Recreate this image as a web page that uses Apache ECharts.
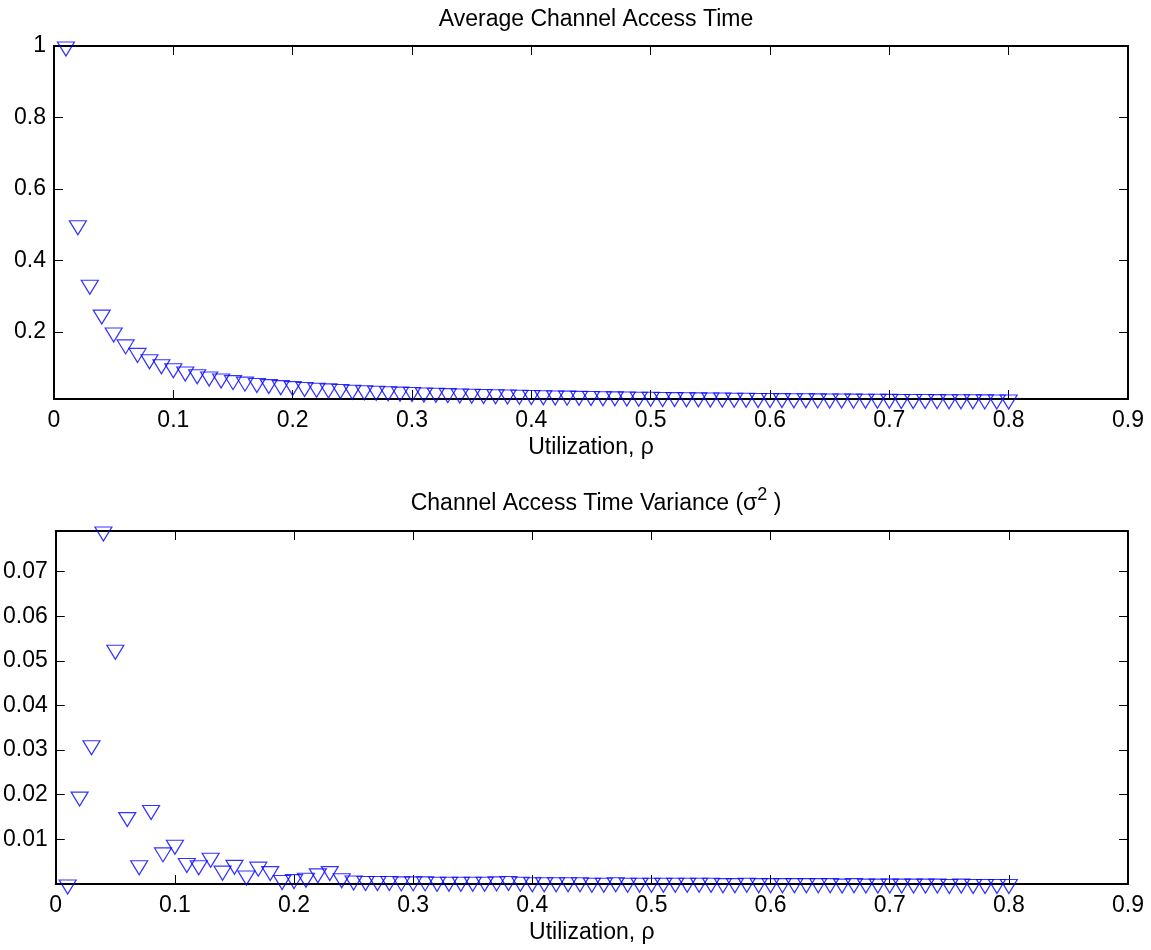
<!DOCTYPE html>
<html>
<head>
<meta charset="utf-8">
<script src="https://cdn.jsdelivr.net/npm/echarts@6/dist/echarts.min.js"></script>
<style>
html,body{margin:0;padding:0;background:#fff;}
#chart{width:1151px;height:950px;}
</style>
</head>
<body>
<div id="chart"></div>
<script>
// Utilization values (x)
const rho = [
  0.01,0.02,0.03,0.04,0.05,0.06,0.07,0.08,0.09,0.10,
  0.11,0.12,0.13,0.14,0.15,0.16,0.17,0.18,0.19,0.20,
  0.21,0.22,0.23,0.24,0.25,0.26,0.27,0.28,0.29,0.30,
  0.31,0.32,0.33,0.34,0.35,0.36,0.37,0.38,0.39,0.40,
  0.41,0.42,0.43,0.44,0.45,0.46,0.47,0.48,0.49,0.50,
  0.51,0.52,0.53,0.54,0.55,0.56,0.57,0.58,0.59,0.60,
  0.61,0.62,0.63,0.64,0.65,0.66,0.67,0.68,0.69,0.70,
  0.71,0.72,0.73,0.74,0.75,0.76,0.77,0.78,0.79,0.80
];
// Average channel access time
const avgTime = [
  1,0.5,0.3333,0.25,0.2,0.1667,0.1429,0.125,0.1111,0.1,
  0.0909,0.0833,0.0769,0.0714,0.0667,0.0625,0.0588,0.0556,0.0526,0.05,
  0.0476,0.0455,0.0435,0.0417,0.04,0.0385,0.037,0.0357,0.0345,0.0333,
  0.0323,0.0313,0.0303,0.0294,0.0286,0.0278,0.027,0.0263,0.0256,0.025,
  0.0244,0.0238,0.0233,0.0227,0.0222,0.0217,0.0213,0.0208,0.0204,0.02,
  0.0196,0.0192,0.0189,0.0185,0.0182,0.0179,0.0175,0.0172,0.0169,0.0167,
  0.0164,0.0161,0.0159,0.0156,0.0154,0.0152,0.0149,0.0147,0.0145,0.0143,
  0.0141,0.0139,0.0137,0.0135,0.0133,0.0132,0.013,0.0128,0.0127,0.0125
];
// Channel access time variance
const varTime = [
  0.0000,0.0197,0.0312,0.0791,0.0526,0.0151,0.0043,0.0167,0.0072,0.0089,
  0.0048,0.0043,0.0060,0.0031,0.0044,0.0020,0.0040,0.0030,0.0010,0.0012,
  0.0015,0.0025,0.0030,0.0014,0.0009,0.0008,0.0008,0.0008,0.0007,0.0007,
  0.0007,0.0006,0.0006,0.0006,0.0006,0.0006,0.0007,0.0008,0.0006,0.0005,
  0.0005,0.0005,0.0005,0.0005,0.0004,0.0004,0.0005,0.0004,0.0004,0.0004,
  0.0004,0.0004,0.0004,0.0004,0.0004,0.0003,0.0003,0.0004,0.0003,0.0003,
  0.0003,0.0003,0.0003,0.0003,0.0003,0.0002,0.0003,0.0002,0.0002,0.0002,
  0.0002,0.0002,0.0002,0.0002,0.0001,0.0002,0.0001,0.0001,0.0001,0.0001
];
const xTicks = [0,0.1,0.2,0.3,0.4,0.5,0.6,0.7,0.8,0.9];
const yTicksTop = [0.2,0.4,0.6,0.8,1];
const yTicksBottom = [0.01,0.02,0.03,0.04,0.05,0.06,0.07];

const FONT = 'Liberation Sans, Arial, Helvetica, sans-serif';
const FS = 23;
const fmt = v => String(+(+v).toFixed(4));

function xAxisPair(gi) {
  const base = {
    gridIndex: gi, type: 'value', min: 0, max: 0.9, interval: 0.1,
    splitLine: {show: false},
    axisLine: {show: true, onZero: false, lineStyle: {color: '#000', width: 2}},
    axisTick: {show: true, inside: true, length: 9, customValues: xTicks, lineStyle: {color: '#000', width: 1}}
  };
  return [
    Object.assign({}, base, {
      position: 'bottom',
      name: 'Utilization, ρ', nameLocation: 'middle', nameGap: 37,
      nameTextStyle: {color: '#000', fontSize: FS, fontFamily: FONT},
      axisLabel: {color: '#000', fontSize: FS, fontFamily: FONT, margin: 10, customValues: xTicks, formatter: fmt}
    }),
    Object.assign({}, base, {position: 'top', axisLabel: {show: false}})
  ];
}
function yAxisPair(gi, min, max, ticks) {
  const base = {
    gridIndex: gi, type: 'value', min: min, max: max,
    splitLine: {show: false},
    axisLine: {show: true, onZero: false, lineStyle: {color: '#000', width: 2}},
    axisTick: {show: true, inside: true, length: 9, customValues: ticks, lineStyle: {color: '#000', width: 1}}
  };
  return [
    Object.assign({}, base, {
      position: 'left',
      axisLabel: {color: '#000', fontSize: FS, fontFamily: FONT, margin: 8, customValues: ticks, formatter: fmt}
    }),
    Object.assign({}, base, {position: 'right', axisLabel: {show: false}})
  ];
}
function pts(ys) { return rho.map((x, i) => [x, ys[i]]); }
const markerStyle = {
  type: 'scatter', symbol: 'triangle', symbolRotate: 180, symbolSize: [17, 14],
  symbolOffset: [0, 3], clip: false, silent: true,
  itemStyle: {color: 'rgba(0,0,0,0)', borderColor: '#0000ff', borderWidth: 1.2}
};

const chart = echarts.init(document.getElementById('chart'), null, {renderer: 'canvas'});
chart.setOption({
  animation: false,
  backgroundColor: '#fff',
  title: [
    {text: 'Average Channel Access Time', left: 591, top: 3, textAlign: 'center',
     textStyle: {color: '#000', fontSize: FS, fontWeight: 'normal', fontFamily: FONT}},
    {text: 'Channel Access Time Variance (σ{sup|2} )', left: 591, top: 481, textAlign: 'center',
     textStyle: {color: '#000', fontSize: FS, fontWeight: 'normal', fontFamily: FONT,
       rich: {sup: {fontSize: 18, fontFamily: FONT, color: '#000', padding: [0, 0, 18, 0]}}}}
  ],
  grid: [
    {left: 54, top: 46, width: 1074, height: 353},
    {left: 54, top: 531, width: 1074, height: 353}
  ],
  xAxis: xAxisPair(0).concat(xAxisPair(1)),
  yAxis: yAxisPair(0, 0.0125, 1, yTicksTop).concat(yAxisPair(1, 0, 0.0791, yTicksBottom)),
  series: [
    Object.assign({}, markerStyle, {xAxisIndex: 0, yAxisIndex: 0, data: pts(avgTime)}),
    Object.assign({}, markerStyle, {xAxisIndex: 2, yAxisIndex: 2, data: pts(varTime)})
  ]
});
</script>
</body>
</html>
